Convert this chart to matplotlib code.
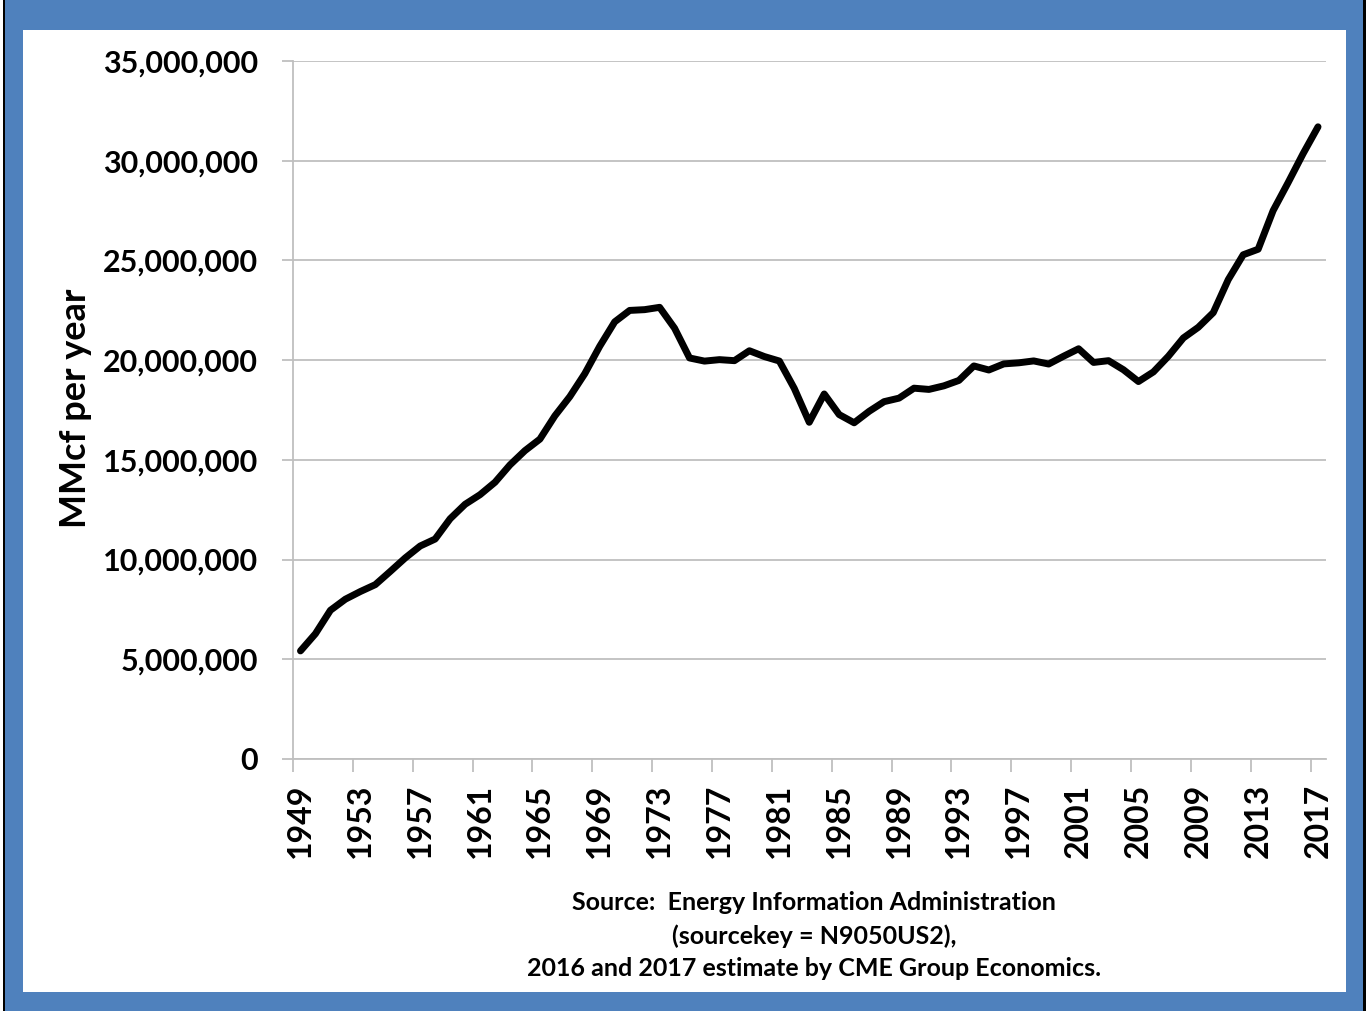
import matplotlib
matplotlib.use("Agg")
import matplotlib.pyplot as plt
from matplotlib.patches import Rectangle
from matplotlib.ticker import FixedLocator, FuncFormatter, NullFormatter

# U.S. marketed natural gas production, MMcf per year
years = list(range(1949, 2018))
production = [
    5420000, 6282000, 7457000, 8013000, 8397000, 8743000, 9405000, 10082000,
    10680000, 11030000, 12046000, 12771000, 13254000, 13877000, 14747000,
    15462000, 16040000, 17207000, 18171000, 19322000, 20698000, 21921000,
    22493000, 22532000, 22648000, 21601000, 20109000, 19952000, 20025000,
    19974000, 20471000, 20180000, 19956000, 18582000, 16884000, 18304000,
    17270000, 16859000, 17433000, 17918000, 18095000, 18594000, 18532000,
    18712000, 18982000, 19710000, 19506000, 19812000, 19866000, 19961000,
    19805000, 20198000, 20570000, 19885000, 19974000, 19517000, 18927000,
    19410000, 20196000, 21112000, 21648000, 22382000, 24036000, 25283000,
    25562000, 27498000, 28900000, 30350000, 31700000,
]
year_labels = years[::4]
y_ticks = list(range(0, 35000001, 5000000))
source_lines = [
    "Source:  Energy Information Administration",
    "(sourcekey = N9050US2),",
    "2016 and 2017 estimate by CME Group Economics.",
]

W, H = 1366, 1011
fig = plt.figure(figsize=(W / 100, H / 100), dpi=100)
fig.patch.set_facecolor("white")

def fx(px):
    return px / W

def fy(py):
    return 1 - py / H

# Framed panel: thin black outline, blue band, white inner area
fig.patches.append(Rectangle((fx(3), fy(1011)), fx(1363), fy(3) - fy(1011) + 0.01,
                             transform=fig.transFigure, facecolor="black",
                             edgecolor="none", zorder=-3))
fig.patches.append(Rectangle((fx(5), fy(1011)), fx(1358), fy(5) - fy(1011) + 0.01,
                             transform=fig.transFigure, facecolor="#4F81BD",
                             edgecolor="none", zorder=-2))
fig.patches.append(Rectangle((fx(23), fy(992)), fx(1346 - 23), fy(30) - fy(992),
                             transform=fig.transFigure, facecolor="white",
                             edgecolor="none", zorder=-1))

ax = fig.add_axes([fx(293), fy(759), fx(1325.5 - 293), fy(61) - fy(759)])
ax.set_zorder(2)
ax.set_facecolor("none")

grid_color = "#BFBFBF"
ax.plot(years, production, color="black", linewidth=5.0,
        solid_joinstyle="round", solid_capstyle="round", zorder=3)

ax.set_xlim(1948.5, 2017.5)
ax.set_ylim(0, 35000000)

font = "Lato"

# y axis
ax.yaxis.set_major_locator(FixedLocator(y_ticks))
ax.yaxis.set_major_formatter(FuncFormatter(lambda v, p: f"{int(v):,}"))
ax.grid(axis="y", color=grid_color, linewidth=1.3, zorder=1)
ax.tick_params(axis="y", direction="out", length=8, width=1.3, color=grid_color,
               pad=17, labelsize=22)
for lbl in ax.get_yticklabels():
    lbl.set_fontfamily(font)
    lbl.set_fontweight("bold")

# x axis: tick marks at category boundaries, labels at category centres
ax.xaxis.set_major_locator(FixedLocator([y - 0.5 for y in year_labels]))
ax.xaxis.set_major_formatter(NullFormatter())
ax.xaxis.set_minor_locator(FixedLocator(year_labels))
ax.xaxis.set_minor_formatter(FuncFormatter(lambda v, p: f"{int(round(v))}"))
ax.tick_params(axis="x", which="major", direction="out", length=9, width=1.3,
               color=grid_color)
ax.tick_params(axis="x", which="minor", length=0, pad=18, labelsize=23,
               labelrotation=90)
for lbl in ax.xaxis.get_minorticklabels():
    lbl.set_fontfamily(font)
    lbl.set_fontweight("bold")

for side in ("top", "right"):
    ax.spines[side].set_visible(False)
for side in ("left", "bottom"):
    ax.spines[side].set_color(grid_color)
    ax.spines[side].set_linewidth(1.3)

fig.text(fx(75), fy(408), "MMcf per year", rotation=90, ha="center", va="center",
         fontsize=26, fontweight="bold", family=font, color="black")

for i, line in enumerate(source_lines):
    fig.text(fx(814), fy(903 + 33 * i), line, ha="center", va="center",
             fontsize=18, fontweight="bold", family=font, color="black")

fig.savefig("out.png", dpi=100, facecolor=fig.get_facecolor())
